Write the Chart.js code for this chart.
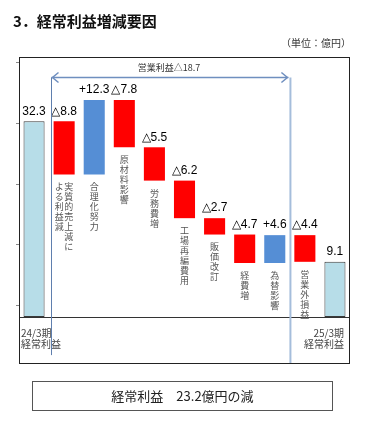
<!DOCTYPE html>
<html>
<head>
<meta charset="utf-8">
<script src="https://cdn.jsdelivr.net/npm/chart.js@4/dist/chart.umd.min.js"></script>
<style>
  body { margin: 0; background: #fff; font-family: "Noto Sans CJK JP", sans-serif; }
  #wrap { position: relative; width: 370px; height: 421px; }
  #title { position: absolute; left: 13px; top: 10px; font-size: 15px; font-weight: bold; color: #111; letter-spacing: 0px; }
  #unit { position: absolute; right: 19px; top: 35px; font-size: 10px; color: #333; }
  #summary { position: absolute; left: 32px; top: 381px; width: 299px; height: 28px; border: 1px solid #555;
    font-size: 13px; color: #222; text-align: center; line-height: 28px; }
  canvas { position: absolute; left: 0; top: 0; }
</style>
</head>
<body>
<div id="wrap">
  <canvas id="myChart" width="370" height="421"></canvas>
  <div id="title">3．経常利益増減要因</div>
  <div id="unit">（単位：億円）</div>
  <div id="summary">経常利益　23.2億円の減</div>
</div>
<script>
const categories = ["24/3期 経常利益", "実質的売上減による利益減", "合理化努力", "原材料影響", "労務費増",
  "工場再編費用", "販価改訂", "経費増", "為替影響", "営業外損益", "25/3期 経常利益"];
const changes = [32.3, -8.8, 12.3, -7.8, -5.5, -6.2, -2.7, -4.7, 4.6, -4.4, 9.1];
const valueLabels = ["32.3", "△8.8", "+12.3", "△7.8", "△5.5", "△6.2", "△2.7", "△4.7", "+4.6", "△4.4", "9.1"];
const yTicks = [2, 12, 22, 32, 42];
const bracketLabel = "営業利益△18.7";

// floating bars: totals start at 0, steps start where the previous one ended
let level = 0;
const ranges = changes.map((c, i) => {
  if (i === 0 || i === changes.length - 1) { level = c; return [0, c]; }
  const r = [level, level + c];
  level += c;
  return r;
});
const colors = changes.map((c, i) =>
  (i === 0 || i === changes.length - 1) ? "#b7dde8" : (c < 0 ? "#ff0000" : "#558ed5"));
const borders = changes.map((c, i) => (i === 0 || i === changes.length - 1) ? "#3a3a3a" : "rgba(0,0,0,0)");
const borderW = changes.map((c, i) => (i === 0 || i === changes.length - 1) ? 1 : 0);

const jp = '"Noto Sans CJK JP", sans-serif';

const decor = {
  id: "decor",
  beforeDatasetsDraw(chart) {
    const { ctx, chartArea: a, scales: { x, y } } = chart;
    ctx.save();
    // baseline
    ctx.strokeStyle = "#333";
    ctx.lineWidth = 1;
    const y0 = Math.round(y.getPixelForValue(0)) + 0.5;
    ctx.beginPath(); ctx.moveTo(a.left, y0); ctx.lineTo(a.right, y0); ctx.stroke();
    // y tick marks
    ctx.strokeStyle = "#888";
    yTicks.forEach(t => {
      const py = Math.round(y.getPixelForValue(t)) + 0.5;
      ctx.beginPath(); ctx.moveTo(a.left - 3, py); ctx.lineTo(a.left, py); ctx.stroke();
    });
    ctx.restore();
  },
  afterDatasetsDraw(chart) {
    const { ctx, chartArea: a, scales: { x, y } } = chart;
    ctx.save();
    // outer box
    ctx.strokeStyle = "#222";
    ctx.lineWidth = 1;
    ctx.strokeRect(a.left + 0.5, a.top + 0.5, a.right - a.left - 1, a.bottom - a.top);

    // value labels
    ctx.fillStyle = "#000";
    ctx.font = "12px 'Liberation Sans', sans-serif";
    ctx.textAlign = "center";
    ctx.textBaseline = "bottom";
    ranges.forEach((r, i) => {
      const top = y.getPixelForValue(Math.max(r[0], r[1]));
      ctx.fillText(valueLabels[i], x.getPixelForValue(i), top - 4);
    });

    // vertical category text for the step bars
    ctx.fillStyle = "#555";
    ctx.font = "9px " + jp;
    ctx.textBaseline = "top";
    for (let i = 1; i < categories.length - 1; i++) {
      const bottom = y.getPixelForValue(Math.min(ranges[i][0], ranges[i][1]));
      const name = categories[i];
      const cols = [];
      for (let k = 0; k < name.length; k += 7) cols.push(name.slice(k, k + 7));
      const cx = x.getPixelForValue(i);
      cols.forEach((col, ci) => {
        const colX = cx + (cols.length - 1) * 4.5 - ci * 9.5;
        [...col].forEach((ch, k) => ctx.fillText(ch, colX, bottom + 8 + k * 10));
      });
    }

    // total labels under the baseline
    ctx.font = "10px " + jp;
    ctx.textAlign = "left";
    ctx.fillStyle = "#444";
    const [l1, l2] = categories[0].split(" ");
    ctx.fillText(l1, a.left + 2, y.getPixelForValue(0) + 11);
    ctx.fillText(l2, a.left + 2, y.getPixelForValue(0) + 22);
    const [r1, r2] = categories[categories.length - 1].split(" ");
    ctx.textAlign = "right";
    ctx.fillText(r1, a.right - 6, y.getPixelForValue(0) + 11);
    ctx.fillText(r2, a.right - 6, y.getPixelForValue(0) + 22);

    // operating profit bracket
    const lx = Math.round(x.getPixelForValue(0.56)) + 0.5;
    const rx = x.getPixelForValue(8.52);
    const by = Math.round(y.getPixelForValue(39.6)) + 0.5;
    ctx.strokeStyle = "#6f8fbf";
    ctx.lineWidth = 1.5;
    ctx.beginPath(); ctx.moveTo(lx, by); ctx.lineTo(rx - 2, by); ctx.stroke();
    ctx.beginPath(); ctx.moveTo(lx + 7, by - 5); ctx.lineTo(lx + 1, by); ctx.lineTo(lx + 7, by + 5); ctx.stroke();
    ctx.beginPath(); ctx.moveTo(rx - 9, by - 5); ctx.lineTo(rx - 3, by); ctx.lineTo(rx - 9, by + 5); ctx.stroke();
    ctx.lineWidth = 1;
    ctx.strokeStyle = "#5f7fae";
    ctx.beginPath(); ctx.moveTo(lx, by); ctx.lineTo(lx, y.getPixelForValue(-6.3)); ctx.stroke();
    ctx.lineWidth = 2;
    ctx.strokeStyle = "#a5bddb";
    ctx.beginPath(); ctx.moveTo(rx, by); ctx.lineTo(rx, a.bottom); ctx.stroke();

    ctx.fillStyle = "#333";
    ctx.font = "9px " + jp;
    ctx.textAlign = "center";
    ctx.textBaseline = "middle";
    ctx.fillText(bracketLabel, (lx + rx) / 2 - 2, by - 10);
    ctx.restore();
  }
};

new Chart(document.getElementById("myChart").getContext("2d"), {
  type: "bar",
  data: {
    labels: categories,
    datasets: [{
      data: ranges,
      backgroundColor: colors,
      borderColor: borders,
      borderWidth: borderW,
      borderSkipped: false,
      barPercentage: 0.7,
      categoryPercentage: 1.0
    }]
  },
  options: {
    responsive: false,
    animation: false,
    devicePixelRatio: 1,
    layout: { padding: { left: 19, right: 20, top: 57, bottom: 58 } },
    plugins: { legend: { display: false }, tooltip: { enabled: false } },
    scales: {
      x: { display: false },
      y: { display: false, min: -7.6, max: 42.9 }
    }
  },
  plugins: [decor]
});
</script>
</body>
</html>
